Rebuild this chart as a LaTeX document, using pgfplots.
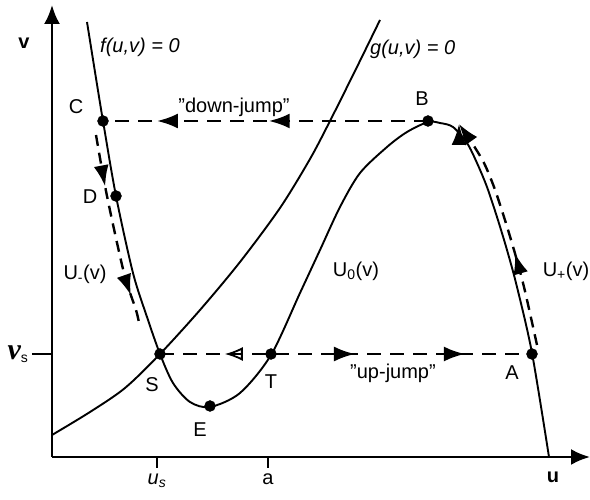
\documentclass[border=0pt]{standalone}
\usepackage{pgfplots}
\pgfplotsset{compat=1.18}
\usepackage{fontspec}
\setmainfont{Liberation Sans}
\newfontfamily\nufont{Liberation Serif}
\usetikzlibrary{arrows.meta,decorations.markings}

\tikzset{
  big/.style={font=\fontsize{20}{24}\selectfont},
  tip/.tip={Latex[length=21pt,width=15pt]},
  otip/.tip={Latex[open,length=18pt,width=14pt,line width=1.8pt]},
}

\begin{document}
\begin{tikzpicture}[big]
\begin{axis}[
  at={(52pt,43pt)}, anchor=south west,
  scale only axis, width=538pt, height=452pt,
  xmin=52, xmax=590, ymin=43, ymax=495,
  axis lines=left,
  axis line style={line width=2.6pt, -{Latex[length=19pt,width=16pt]}},
  xtick={157,268},
  xticklabels={\textit{u\textsubscript{s}}, a},
  ytick=\empty,
  extra y ticks={146},
  extra y tick labels={{\nufont\bfseries\itshape\fontsize{30}{32}\selectfont ν}\textsubscript{s}},
  extra y tick style={major tick length=20pt},
  tick align=outside,
  major tick length=11pt,
  tick style={line width=2.2pt, black},
  tick label style={font=\fontsize{20}{24}\selectfont},
  xticklabel style={yshift=-2pt},
  clip=false,
]
% nullcline f(u,v)=0 (cubic-shaped)
\addplot[line width=1.9pt, smooth, tension=0.5] coordinates {
  (87,478) (95,428) (103,379) (116,304) (133,227) (147,183) (160,146)
  (173,117) (190,98) (210,93) (240,107) (271,145) (300,207) (320,250)
  (340,293) (360,327) (387,353) (407,368) (428,378) (440,377) (453,373)
  (467,357) (477,337) (487,313) (497,283) (507,250) (517,213) (532,147) (549,43)};
% nullcline g(u,v)=0
\addplot[line width=1.9pt, smooth] coordinates {
  (52,65) (90,88) (125,112) (160,146) (200,190) (240,238) (280,292)
  (310,341) (330,379) (355,429) (380,480)};

% down-jump B -> C
\addplot[line width=2.6pt, dash pattern=on 14pt off 9pt,
  postaction={decorate},
  decoration={markings,
    mark=at position 0.49 with {\arrow{tip}},
    mark=at position 0.834 with {\arrow{tip}}}]
  coordinates {(428,379) (103,379)};
% up-jump S -> A
\addplot[line width=2.6pt, dash pattern=on 14pt off 9pt,
  postaction={decorate},
  decoration={markings,
    mark=at position 0.175 with {\arrowreversed{otip}},
    mark=at position 0.527 with {\arrow{tip}},
    mark=at position 0.824 with {\arrow{tip}}}]
  coordinates {(160,146) (530,146)};
% slow motion along U_-(v)
\addplot[line width=2.4pt, dash pattern=on 11pt off 7pt, smooth,
  postaction={decorate},
  decoration={markings,
    mark=at position 0.27 with {\arrow{tip}},
    mark=at position 0.85 with {\arrow{tip}}}]
  coordinates {(96,365) (107,304) (124,227) (136,190) (139,177)};
% slow motion along U_+(v)
\addplot[line width=2.4pt, dash pattern=on 11pt off 7pt, smooth, -{tip},
  postaction={decorate},
  decoration={markings,
    mark=at position 0.40 with {\arrow{tip}}}]
  coordinates {(537,155) (524,213) (514,250) (504,283) (494,313) (484,337) (472,357) (459,376)};

% special points
\addplot[only marks, mark=*, mark size=5.5pt, black] coordinates {
  (103,379) (116,304) (160,146) (210,94) (271,146) (428,379) (532,146)};

% labels
\node at (axis cs:76,393) {C};
\node at (axis cs:90,303) {D};
\node at (axis cs:422,401) {B};
\node at (axis cs:152,115) {S};
\node at (axis cs:271,118) {T};
\node at (axis cs:200,70) {E};
\node at (axis cs:512,127) {A};
\node at (axis cs:234,393) {"down-jump"};
\node at (axis cs:393,127) {"up-jump"};
\node at (axis cs:85,226) {U\textsubscript{-}(v)};
\node at (axis cs:356,229) {U\textsubscript{0}(v)};
\node at (axis cs:566,229) {U\textsubscript{+}(v)};
\node[anchor=west, inner sep=0pt] at (axis cs:100,453) {\itshape f(u,v) = 0};
\node[anchor=west, inner sep=0pt] at (axis cs:370,451) {\itshape g(u,v) = 0};
\node at (axis cs:24,457) {\bfseries v};
\node at (axis cs:553,23) {\bfseries u};
\end{axis}
\pgfresetboundingbox
\path[use as bounding box] (0,0) rectangle (590pt,500pt);
\end{tikzpicture}
\end{document}
